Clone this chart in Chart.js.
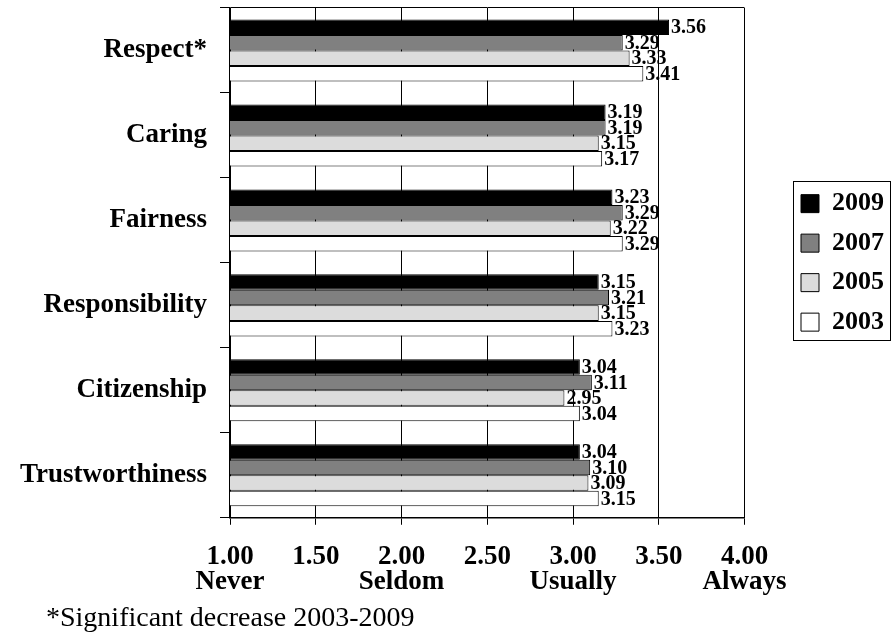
<!DOCTYPE html>
<html>
<head>
<meta charset="utf-8">
<title>Character traits ratings 2003-2009</title>
<script src="https://cdn.jsdelivr.net/npm/chart.js@4/dist/chart.umd.min.js"></script>
<style>
  html, body { margin: 0; padding: 0; background: #fff; }
  canvas { display: block; }
</style>
</head>
<body>
<canvas id="chart" width="894" height="634"></canvas>
<script>
// Trait categories, top to bottom
const traits = ['Respect*', 'Caring', 'Fairness', 'Responsibility', 'Citizenship', 'Trustworthiness'];

// Mean ratings per survey year
const years = ['2009', '2007', '2005', '2003'];
const values2009 = [3.56, 3.19, 3.23, 3.15, 3.04, 3.04];
const values2007 = [3.29, 3.19, 3.29, 3.21, 3.11, 3.10];
const values2005 = [3.33, 3.15, 3.22, 3.15, 2.95, 3.09];
const values2003 = [3.41, 3.17, 3.29, 3.23, 3.04, 3.15];

// Rating scale ticks and their verbal anchors
const scaleTicks = [1.00, 1.50, 2.00, 2.50, 3.00, 3.50, 4.00];
const scaleTickText = ['1.00', '1.50', '2.00', '2.50', '3.00', '3.50', '4.00'];
const scaleAnchors = ['Never', '', 'Seldom', '', 'Usually', '', 'Always'];

const footnote = '*Significant decrease 2003-2009';

const SERIF = "'Liberation Serif', 'Times New Roman', Times, serif";
const fills = ['#000000', '#808080', '#dcdcdc', '#ffffff'];
const series = [values2009, values2007, values2005, values2003];

// Value labels printed just past the end of each bar
const valueLabels = {
  id: 'valueLabels',
  afterDatasetsDraw(chart) {
    const ctx = chart.ctx;
    ctx.save();
    ctx.font = 'bold 20px ' + SERIF;
    ctx.fillStyle = '#000';
    ctx.textAlign = 'left';
    ctx.textBaseline = 'middle';
    chart.data.datasets.forEach((ds, di) => {
      const meta = chart.getDatasetMeta(di);
      meta.data.forEach((bar, i) => {
        ctx.fillText(ds.data[i].toFixed(2), bar.x + 2, bar.y + 1);
      });
    });
    ctx.restore();
  }
};

// Frame around the legend entries
const legendFrame = {
  id: 'legendFrame',
  afterDraw(chart) {
    const lg = chart.legend;
    if (!lg || !lg.legendHitBoxes || !lg.legendHitBoxes.length) return;
    const opts = lg.options.labels;
    const fontSize = opts.font.size;
    const boxH = opts.boxHeight;
    const hb = lg.legendHitBoxes;
    const first = hb[0], last = hb[hb.length - 1];
    const sqTop = first.top + Math.max((fontSize - boxH) / 2, 0);
    const sqBottom = last.top + Math.max((fontSize - boxH) / 2, 0) + boxH;
    const x1 = first.left - 8;
    const x2 = 890;
    const ctx = chart.ctx;
    ctx.save();
    ctx.strokeStyle = '#000';
    ctx.lineWidth = 1;
    ctx.strokeRect(Math.round(x1) + 0.5, Math.round(sqTop - 14) + 0.5,
                   Math.round(x2 - x1), Math.round(sqBottom + 8 - (sqTop - 14)));
    ctx.restore();
  }
};

// Footnote under the rating scale
const footnoteText = {
  id: 'footnoteText',
  afterDraw(chart) {
    const ctx = chart.ctx;
    ctx.save();
    ctx.font = '28px ' + SERIF;
    ctx.fillStyle = '#000';
    ctx.textAlign = 'left';
    ctx.textBaseline = 'alphabetic';
    ctx.fillText(footnote, 46, chart.height - 8);
    ctx.restore();
  }
};

Chart.defaults.color = '#000';
Chart.defaults.font.family = SERIF;

new Chart(document.getElementById('chart'), {
  type: 'bar',
  data: {
    labels: traits,
    datasets: years.map((y, k) => ({
      label: y,
      data: series[k],
      backgroundColor: fills[k],
      borderColor: '#000',
      borderWidth: 1,
      borderSkipped: false,
      barPercentage: 1.0,
      categoryPercentage: 0.73
    }))
  },
  options: {
    indexAxis: 'y',
    responsive: false,
    animation: false,
    devicePixelRatio: 1,
    layout: { padding: { top: 8, left: 0, right: 0, bottom: 19 } },
    scales: {
      x: {
        type: 'linear',
        min: 1,
        max: 4,
        ticks: {
          stepSize: 0.5,
          autoSkip: false,
          maxRotation: 0,
          padding: 20,
          color: '#000',
          font: { size: 27, weight: 'bold', lineHeight: 0.93 },
          callback(value) {
            const i = scaleTicks.indexOf(value);
            if (i < 0) return '';
            return scaleAnchors[i] ? [scaleTickText[i], scaleAnchors[i]] : scaleTickText[i];
          }
        },
        grid: {
          color: '#000',
          lineWidth: 1,
          tickLength: 7,
          drawOnChartArea: true
        },
        border: { display: true, color: '#000', width: 1.5 }
      },
      y: {
        type: 'category',
        offset: true,
        ticks: {
          padding: 13,
          color: '#000',
          font: { size: 27, weight: 'bold' }
        },
        grid: {
          offset: true,
          drawOnChartArea: true,
          tickLength: 10,
          tickColor: '#000',
          lineWidth: 1,
          color: (c) => (c.index === 0 ? '#000' : 'rgba(0,0,0,0)')
        },
        border: { display: true, color: '#000', width: 1.5 },
        afterFit(scale) {
          scale.width = 230;
          scale.paddingTop = 0;
          scale.paddingBottom = 0;
        }
      },
      legendGap: {
        type: 'linear',
        position: 'right',
        display: true,
        grid: { display: false, drawTicks: false },
        border: { display: false },
        ticks: { display: false },
        afterFit(scale) { scale.width = 43; }
      }
    },
    plugins: {
      legend: {
        position: 'right',
        align: 'center',
        fullSize: false,
        labels: {
          boxWidth: 18,
          boxHeight: 18,
          padding: 13.5,
          color: '#000',
          font: { size: 26, weight: 'bold' }
        }
      },
      title: { display: false },
      tooltip: { enabled: false }
    }
  },
  plugins: [valueLabels, legendFrame, footnoteText]
});
</script>
</body>
</html>
